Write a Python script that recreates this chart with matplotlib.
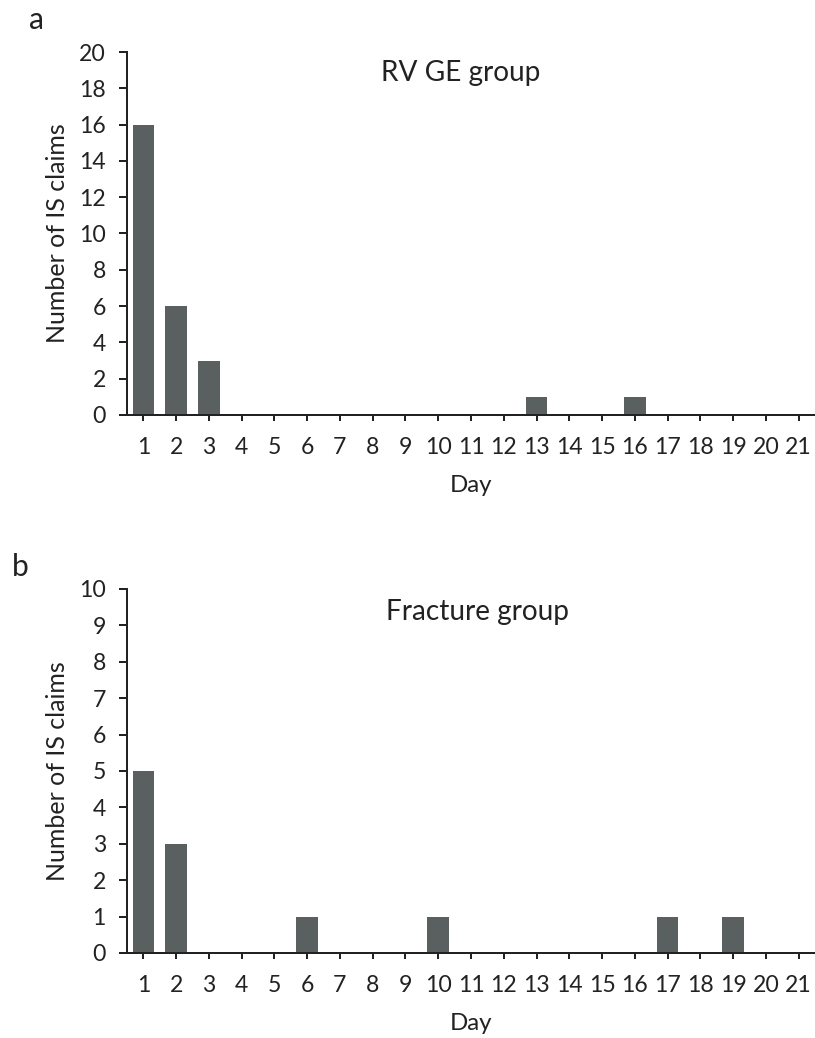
import numpy as np
import matplotlib
matplotlib.use('Agg')
import matplotlib.pyplot as plt

plt.rcParams['font.family'] = ['Lato', 'DejaVu Sans']

# dados
dias = list(range(1, 22))
rv_ge = [16, 6, 3, 0, 0, 0, 0, 0, 0, 0, 0, 0, 1, 0, 0, 1, 0, 0, 0, 0, 0]
fratura = [5, 3, 0, 0, 0, 1, 0, 0, 0, 1, 0, 0, 0, 0, 0, 0, 1, 0, 1, 0, 0]
titulos = ['RV GE group', 'Fracture group']
letras = ['a', 'b']
ylims = [20, 10]
ysteps = [2, 1]

cor_barra = '#5a5f60'
cor_texto = '#222222'

fig = plt.figure(figsize=(815 / 72, 1038 / 72), dpi=72)

# posicoes dos eixos em fracao da figura
posicoes = [[0.1558, 0.6002, 0.8442, 0.3497],
            [0.1558, 0.0819, 0.8442, 0.3507]]
titulo_xy = [(0.485, 0.942), (0.51, 0.937)]
letra_xy = [(37 / 815, 1 - 20 / 1038), (20 / 815, 1 - 567 / 1038)]

for i, valores in enumerate([rv_ge, fratura]):
    ax = fig.add_axes(posicoes[i])
    ax.bar(dias, valores, width=0.66, color=cor_barra, zorder=2)

    ax.set_xlim(0.5, 21.5)
    ax.set_ylim(0, ylims[i])
    ax.set_xticks(dias)
    ax.set_xticklabels([str(d) for d in dias])
    ax.set_yticks(np.arange(0, ylims[i] + 0.1, ysteps[i]))

    for lado in ['top', 'right']:
        ax.spines[lado].set_visible(False)
    for lado in ['left', 'bottom']:
        ax.spines[lado].set_linewidth(2)
        ax.spines[lado].set_color(cor_texto)

    ax.tick_params(axis='x', direction='out', length=6, width=2, pad=16,
                   labelsize=23, colors=cor_texto)
    ax.tick_params(axis='y', direction='out', length=8, width=2, pad=13,
                   labelsize=23, colors=cor_texto)

    ax.set_xlabel('Day', fontsize=24, color=cor_texto, labelpad=17)
    ax.set_ylabel('Number of IS claims', fontsize=25, color=cor_texto, labelpad=10)

    ax.text(titulo_xy[i][0], titulo_xy[i][1], titulos[i], transform=ax.transAxes,
            ha='center', va='center', fontsize=28, color=cor_texto)

    fig.text(letra_xy[i][0], letra_xy[i][1], letras[i], ha='center', va='center',
             fontsize=30, color=cor_texto)

fig.savefig('out.png', dpi=72)
